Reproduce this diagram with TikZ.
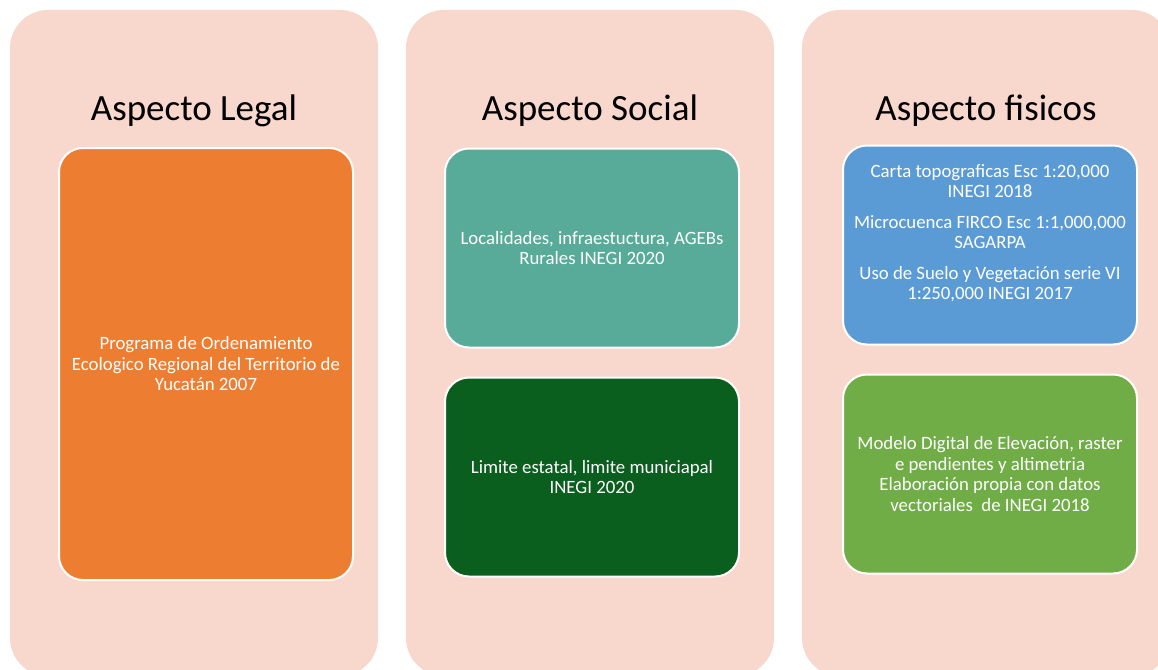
\documentclass[tikz,border=0pt]{standalone}
\usepackage{fontspec}
\setmainfont{Carlito}
\usetikzlibrary{
    positioning,
}

\definecolor{panelpink}{HTML}{F8D8CD}
\definecolor{legalorange}{HTML}{ED7D31}
\definecolor{socialteal}{HTML}{58AB98}
\definecolor{socialdark}{HTML}{0A5E1E}
\definecolor{fisicoblue}{HTML}{5B9BD5}
\definecolor{fisicogreen}{HTML}{70AD47}

\begin{document}
\begin{tikzpicture}[
    x=1pt, y=-1pt,
    node distance= 28pt,
    panel/.style={fill=panelpink, rounded corners=38pt, inner sep=0pt,
                minimum width=368pt, minimum height=666pt},
    heading/.style={text=black, anchor=base, font=\fontsize{37}{41}\selectfont},
    box/.style={draw=white, line width=2pt, rounded corners=24pt, text=white, align=center,
                minimum width=294pt, minimum height=199pt, inner sep=0pt,
                font=\fontsize{18.8}{20.5}\selectfont},
    legal/.style={box, fill=legalorange, minimum height=432pt},
    social/.style={box, fill=socialteal},
    socialline/.style={box, fill=socialdark},
    fisico/.style={box, fill=fisicoblue},
    fisicodem/.style={box, fill=fisicogreen},
]

\clip (0,0) rectangle (1158,669);

% columns
\node[panel] at (194,343) (plegal) {};
\node[panel] at (590,343) (psocial) {};
\node[panel] at (986,343) (pfisico) {};

\node[heading] at (194,120) (tlegal) {Aspecto Legal};
\node[heading] at (590,120) (tsocial) {Aspecto Social};
\node[heading] at (986,120) (tfisico) {Aspecto fisicos};

% legal
\node[legal] at (206,364) (ordenamiento) {Programa de Ordenamiento\\Ecologico Regional del Territorio de\\Yucatán 2007};

% social
\node[social] at (592,248) (localidades) {Localidades, infraestuctura, AGEBs\\Rurales INEGI 2020};
\node[socialline] (limites) [below= of localidades] {Limite estatal, limite municiapal\\INEGI 2020};

% fisicos
\node[fisico] at (990,245) (cartas) {Carta topograficas Esc 1:20,000\\INEGI 2018\\[10pt]Microcuenca FIRCO Esc 1:1,000,000\\SAGARPA\\[10pt]Uso de Suelo y Vegetación serie VI\\1:250,000 INEGI 2017\\[6pt]~};
\node[fisicodem] (elevacion) [below= of cartas] {Modelo Digital de Elevación, raster\\e pendientes y altimetria\\Elaboración propia con datos\\vectoriales~ de INEGI 2018};

\end{tikzpicture}
\end{document}
